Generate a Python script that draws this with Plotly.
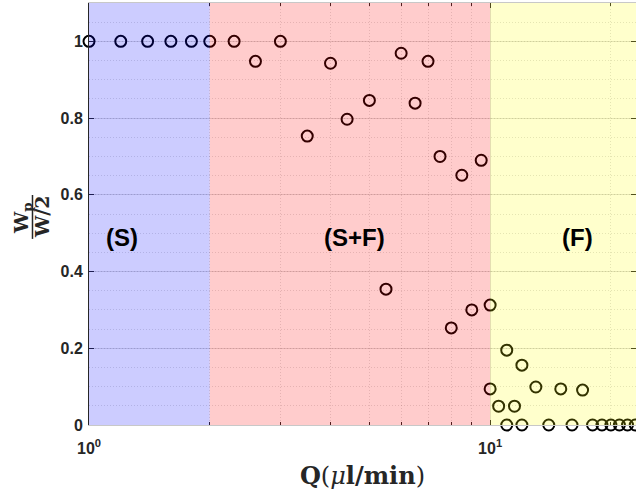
import numpy as np
import plotly.graph_objects as go

# Data
Q = [1, 1.2, 1.4, 1.6, 1.8, 2,
     2.3, 2.6, 3, 3.5, 4, 4.4, 5, 5.5, 6, 6.5, 7, 7.5, 8, 8.5, 9, 9.5, 10, 10,
     10.5, 11, 11, 11.5, 12, 12, 13, 14, 15, 16, 17, 18, 19, 20, 21, 22, 23]
W_ratio = [1, 1, 1, 1, 1, 1,
           1, 0.948, 1, 0.753, 0.943, 0.797, 0.846, 0.354, 0.969, 0.839, 0.948, 0.70, 0.253, 0.651, 0.30, 0.69, 0.3125, 0.094,
           0.049, 0.195, 0, 0.049, 0.156, 0, 0.099, 0, 0.094, 0, 0.091, 0, 0, 0, 0, 0, 0]

region_bounds = [1, 2, 10, 23.1]
region_colors = ["rgb(0,0,255)", "rgb(255,0,0)", "rgb(255,255,0)"]
region_labels = ["(S)", "(S+F)", "(F)"]
region_label_x = [1.21, 4.6, 16.5]
region_label_y = 0.49

x_tickvals = [1, 10]
x_ticktext = ["<b>10<sup>0</sup></b>", "<b>10<sup>1</sup></b>"]
x_minor = [2, 3, 4, 5, 6, 7, 8, 9, 20]
y_tickvals = [0, 0.2, 0.4, 0.6, 0.8, 1.0]
y_ticktext = ["0", "0.2", "0.4", "0.6", "0.8", "1"]

fig = go.Figure()
fig.add_trace(go.Scatter(
    x=Q, y=W_ratio, mode="markers", cliponaxis=False,
    marker=dict(symbol="circle-open", size=11, color="black", line=dict(width=2)),
    showlegend=False,
))

for i in range(3):
    fig.add_shape(type="rect", xref="x", yref="y",
                  x0=region_bounds[i], x1=region_bounds[i + 1], y0=0, y1=1.1,
                  fillcolor=region_colors[i], opacity=0.2, line=dict(width=0), layer="above")
    fig.add_annotation(x=np.log10(region_label_x[i]), y=region_label_y, xref="x", yref="y",
                       text=f"<b>{region_labels[i]}</b>", showarrow=False,
                       font=dict(family="Liberation Sans, Arial", size=24, color="black"))

# y label as a fraction
serif = "DejaVu Serif, Liberation Serif"
fig.add_annotation(x=-0.1225, y=0.4905, xref="paper", yref="paper", text="<b>W<sub>p</sub></b>",
                   textangle=-90, showarrow=False, xanchor="center", yanchor="middle",
                   font=dict(family=serif, size=19, color="#262626"))
fig.add_annotation(x=-0.0859, y=0.493, xref="paper", yref="paper", text="<b>W/2</b>",
                   textangle=-90, showarrow=False, xanchor="center", yanchor="middle",
                   font=dict(family=serif, size=19, color="#262626"))
fig.add_shape(type="line", xref="paper", yref="paper", x0=-0.1033, x1=-0.1033, y0=0.441, y1=0.545,
              line=dict(color="#262626", width=1.5))

fig.update_layout(
    width=636, height=496,
    margin=dict(l=89, r=0, t=3, b=71),
    plot_bgcolor="white", paper_bgcolor="white",
    font=dict(family="Liberation Sans, Arial", color="#262626"),
    xaxis=dict(
        type="log", range=[0, np.log10(region_bounds[-1])],
        tickmode="array", tickvals=x_tickvals, ticktext=x_ticktext,
        tickfont=dict(size=16, color="#262626"),
        ticks="inside", ticklen=5, tickcolor="#262626", mirror="ticks",
        ticklabelstandoff=9,
        showline=True, linecolor="#c8c8c8", linewidth=1,
        showgrid=True, gridcolor="rgba(38,38,38,0.15)", gridwidth=1,
        minor=dict(tickmode="array", tickvals=x_minor, ticks="inside", ticklen=3,
                   tickcolor="#262626", showgrid=True, gridcolor="rgba(38,38,38,0.15)",
                   griddash="1px,2px", gridwidth=1),
        zeroline=False,
        title=dict(text="<b>Q</b>(<i>μ</i><b>l/min</b>)",
                   font=dict(family=serif, size=24, color="#262626"),
                   standoff=10),
    ),
    yaxis=dict(
        range=[0, 1.1],
        tickmode="array", tickvals=y_tickvals, ticktext=y_ticktext,
        tickfont=dict(size=16, color="#262626", weight="bold"),
        ticks="inside", ticklen=5, tickcolor="#262626", mirror="ticks",
        showline=True, linecolor="#262626", linewidth=1,
        ticklabelstandoff=2,
        showgrid=True, gridcolor="rgba(38,38,38,0.15)", gridwidth=1,
        minor=dict(dtick=0.05, tick0=0, showgrid=True, gridcolor="rgba(38,38,38,0.15)",
                   griddash="1px,2px", gridwidth=1),
        zeroline=False,
    ),
)

fig.write_html("out.html", config={"displayModeBar": False},
               post_script="document.body.style.margin='0px';")
